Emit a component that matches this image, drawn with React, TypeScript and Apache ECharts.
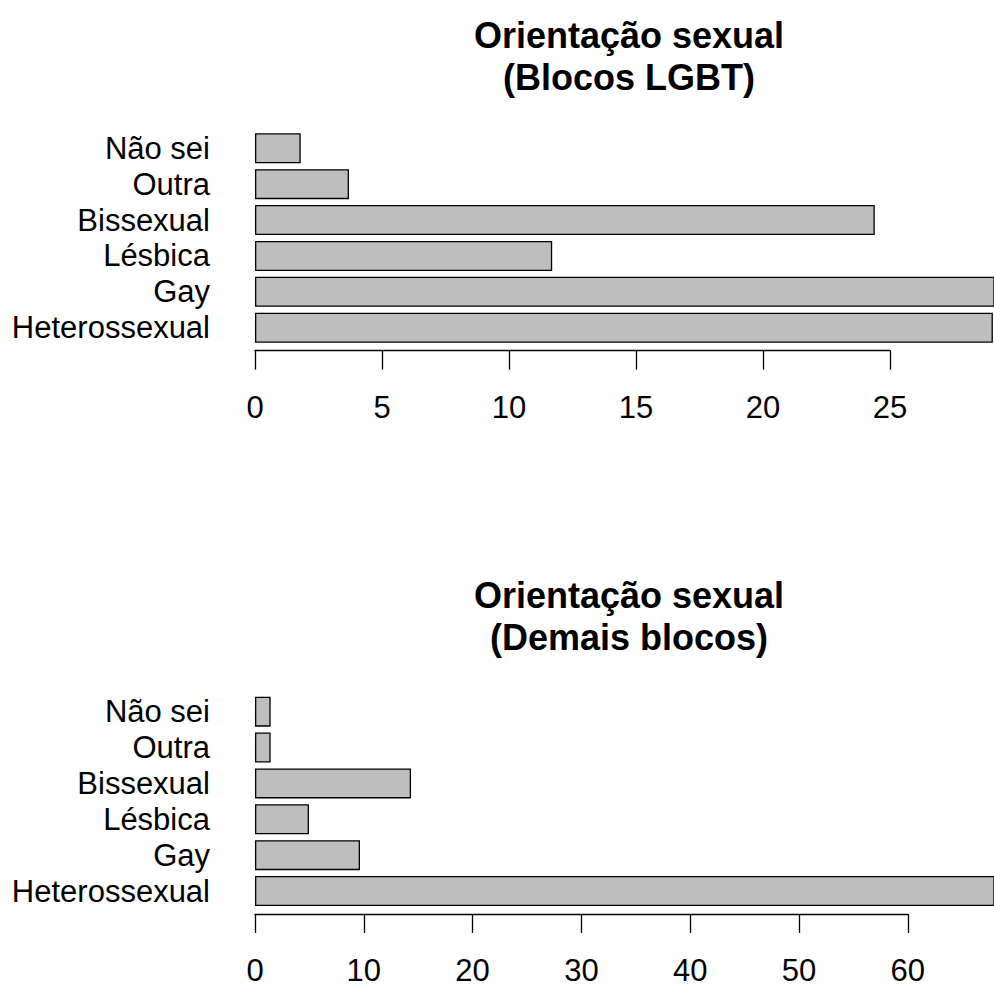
import React, { useEffect, useRef } from "react";
import * as echarts from "echarts";

const categories = ["Heterossexual", "Gay", "Lésbica", "Bissexual", "Outra", "Não sei"];
const lgbtValues = [29.05, 29.4, 11.7, 24.4, 3.7, 1.8];
const otherValues = [68.2, 9.65, 4.96, 14.34, 1.44, 1.44];
const lgbtTicks = [0, 5, 10, 15, 20, 25];
const otherTicks = [0, 10, 20, 30, 40, 50, 60];
const titleTop = "Orientação sexual\n(Blocos LGBT)";
const titleBottom = "Orientação sexual\n(Demais blocos)";

const FONT = "'Liberation Sans', Arial, Helvetica, sans-serif";

export default function App() {
  const ref = useRef<HTMLDivElement>(null);
  useEffect(() => {
    if (!ref.current) return;
    const chart = echarts.init(ref.current, null, { renderer: "svg" });
    const left = 255;
    const plotW = 994 - left;
    const pxTop = 25.4;
    const pxBottom = 10.88;
    const bandH = 35.88;
    const gridH = bandH * 6;
    const topGridTop = 130.35;
    const botGridTop = 693.7;

    const lgbtTickMax = lgbtTicks[lgbtTicks.length - 1];
    const otherTickMax = otherTicks[otherTicks.length - 1];

    const hiddenY = (gridIndex: number) => ({
      type: "category",
      gridIndex,
      data: categories,
      show: false,
    });
    const labelY = (gridIndex: number) => ({
      type: "category",
      gridIndex,
      data: categories,
      axisLine: { show: false },
      axisTick: { show: false },
      axisLabel: {
        interval: 0,
        margin: 45,
        color: "#000",
        fontSize: 31,
        fontFamily: FONT,
      },
    });
    const tickAxis = (gridIndex: number, max: number, interval: number) => ({
      type: "value",
      gridIndex,
      min: 0,
      max,
      interval,
      offset: 5,
      splitLine: { show: false },
      axisLine: { show: true, lineStyle: { color: "#000", width: 1.3 } },
      axisTick: { show: true, length: 19, lineStyle: { color: "#000", width: 1.3 } },
      axisLabel: {
        margin: 42,
        color: "#000",
        fontSize: 31,
        lineHeight: 30,
        fontFamily: FONT,
      },
    });
    const hiddenX = (gridIndex: number, max: number) => ({
      type: "value",
      gridIndex,
      min: 0,
      max,
      show: false,
      splitLine: { show: false },
    });
    const barStyle = {
      color: "#bebebe",
      borderColor: "#000",
      borderWidth: 1.3,
    };

    chart.setOption({
      animation: false,
      backgroundColor: "#fff",
      title: [
        {
          text: titleTop,
          left: 624,
          top: 9,
          textAlign: "center",
          textStyle: { fontSize: 36, fontWeight: "bold", lineHeight: 42, color: "#000", fontFamily: FONT },
        },
        {
          text: titleBottom,
          left: 624,
          top: 569,
          textAlign: "center",
          textStyle: { fontSize: 36, fontWeight: "bold", lineHeight: 42, color: "#000", fontFamily: FONT },
        },
      ],
      grid: [
        { left, width: plotW, top: topGridTop, height: gridH },
        { left, width: lgbtTickMax * pxTop, top: topGridTop, height: gridH },
        { left, width: plotW, top: botGridTop, height: gridH },
        { left, width: otherTickMax * pxBottom, top: botGridTop, height: gridH },
      ],
      xAxis: [
        hiddenX(0, plotW / pxTop),
        tickAxis(1, lgbtTickMax, lgbtTicks[1] - lgbtTicks[0]),
        hiddenX(2, plotW / pxBottom),
        tickAxis(3, otherTickMax, otherTicks[1] - otherTicks[0]),
      ],
      yAxis: [labelY(0), hiddenY(1), labelY(2), hiddenY(3)],
      series: [
        {
          type: "bar",
          xAxisIndex: 0,
          yAxisIndex: 0,
          data: lgbtValues,
          barWidth: 30,
          itemStyle: barStyle,
          clip: true,
        },
        {
          type: "bar",
          xAxisIndex: 2,
          yAxisIndex: 2,
          data: otherValues,
          barWidth: 30,
          itemStyle: barStyle,
          clip: true,
        },
      ],
    });
    return () => chart.dispose();
  }, []);
  return (
    <div
      ref={ref}
      style={{ position: "absolute", left: 0, top: 0, width: 994, height: 988 }}
    />
  );
}
